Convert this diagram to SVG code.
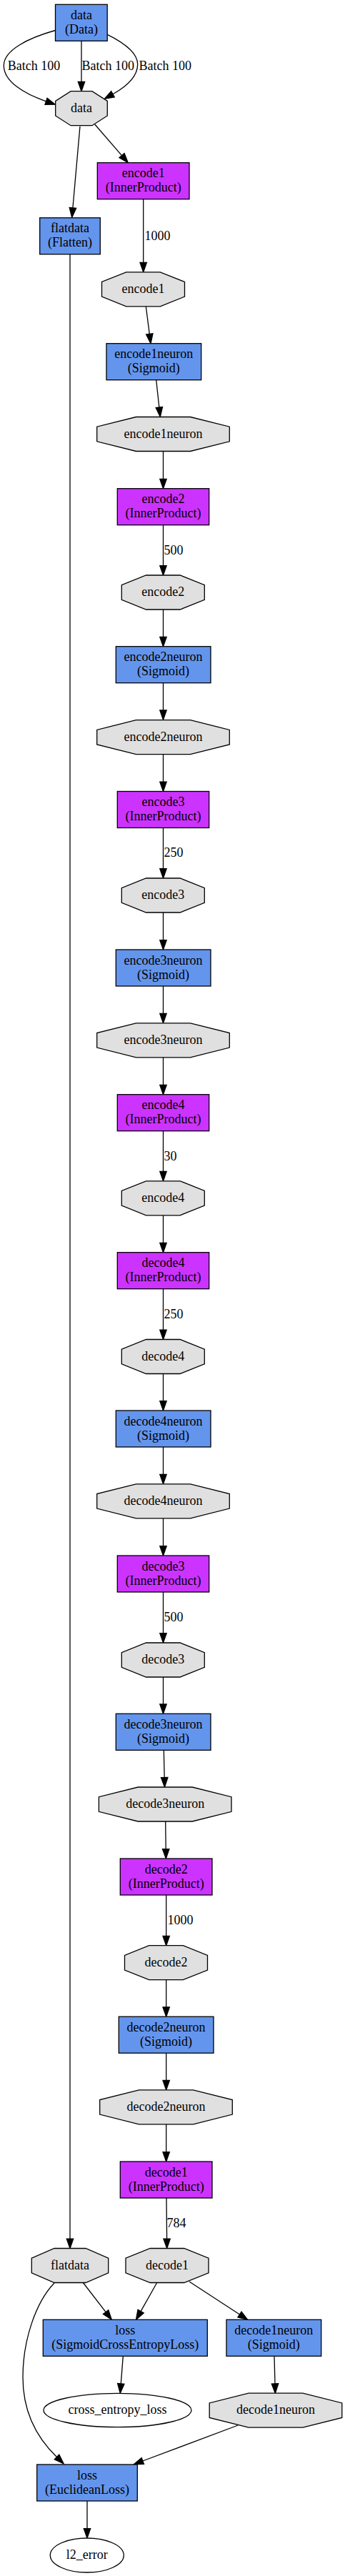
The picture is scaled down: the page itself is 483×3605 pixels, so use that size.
<svg xmlns="http://www.w3.org/2000/svg" width="483" height="3605" viewBox="0 0 483 3605">
<style>
text{font-family:"Liberation Serif","Times New Roman",serif;font-size:18px;fill:#000}
.n text{text-anchor:middle}
.lbl{text-anchor:start}
.lyr{fill:#6495ED;stroke:#000;stroke-width:1.3}
.ip{fill:#CC33FF;stroke:#000;stroke-width:1.3}
.blob{fill:#E0E0E0;stroke:#000;stroke-width:1.3}
.out{fill:#FFFFFF;stroke:#000;stroke-width:1.3}
#edges path{fill:none;stroke:#000;stroke-width:1.3;marker-end:url(#ah)}
</style>
<defs>
<marker id="ah" markerUnits="userSpaceOnUse" markerWidth="16" markerHeight="12" refX="0" refY="0" orient="auto" overflow="visible">
<path d="M0,-4.7 L13.4,0 L0,4.7 Z" fill="#000" stroke="#000" stroke-width="1.3"/>
</marker>
</defs>
<rect width="483" height="3605" fill="#FFFFFF"/>
<g id="edges">
<path d="M77.5,42.5 C40,53 5,70 5.3,92 C5.6,114 33,131 64.5,141.8"/>
<path d="M114,57.3 V114.3"/>
<path d="M150.3,48.3 C172,59 192.7,73 192.7,90 C192.7,106 179,120 158,131.8"/>
<path d="M112,176.7 L101.9,291"/>
<path d="M132.7,174 L170.5,217.6"/>
<path d="M200.7,278.7 V367.3"/>
<path d="M204.3,429 L209.3,467.4"/>
<path d="M218.7,531.7 L222.85,570"/>
<path d="M228.5,631.7 V670.3"/>
<path d="M228.5,734.7 V791.6"/>
<path d="M228.5,853 V891.3"/>
<path d="M228.5,955.7 V993.9"/>
<path d="M228.5,1056 V1094.1"/>
<path d="M228.5,1158.5 V1215.6"/>
<path d="M228.5,1277 V1315.6"/>
<path d="M228.5,1380 V1418.4"/>
<path d="M228.5,1480 V1518.3"/>
<path d="M228.5,1582.7 V1639.4"/>
<path d="M228.5,1700.8 V1739.3"/>
<path d="M228.5,1803.7 V1861.1"/>
<path d="M228.5,1922.5 V1960.6"/>
<path d="M228.5,2025 V2063.4"/>
<path d="M228.5,2124.8 V2163.6"/>
<path d="M228.5,2228 V2285.6"/>
<path d="M228.5,2347 V2384.9"/>
<path d="M229.3,2449.3 L230.2,2487.6"/>
<path d="M231.7,2549 L232.2,2587.6"/>
<path d="M232.7,2652 V2709.3"/>
<path d="M232.7,2770.7 V2808.8"/>
<path d="M232.7,2873.2 V2911.4"/>
<path d="M232.7,2972.8 V3011.6"/>
<path d="M233,3076 L233.6,3133.1"/>
<path d="M98,355.8 V3133.1"/>
<path d="M116,3194 L148.1,3235.7"/>
<path d="M220,3194 L197.1,3234.6"/>
<path d="M265,3193 L335.5,3239"/>
<path d="M76,3195 C50,3222 32,3275 32,3327 C32,3375 52,3412 79.5,3438.5"/>
<path d="M172.3,3297.3 L169.3,3335.9"/>
<path d="M384,3297.3 L385,3335.9"/>
<path d="M333.3,3394 L199.85,3444"/>
<path d="M122,3499.7 V3538.6"/>
<text class="lbl" x="10.7" y="97.5">Batch 100</text>
<text class="lbl" x="114.5" y="97.5">Batch 100</text>
<text class="lbl" x="194.5" y="97.5">Batch 100</text>
<text class="lbl" x="202.5" y="335.8">1000</text>
<text class="lbl" x="229.5" y="775.7">500</text>
<text class="lbl" x="229.5" y="1199.3">250</text>
<text class="lbl" x="229.5" y="1624">30</text>
<text class="lbl" x="229.5" y="1844.7">250</text>
<text class="lbl" x="229.5" y="2269">500</text>
<text class="lbl" x="234.5" y="2693.3">1000</text>
<text class="lbl" x="233.5" y="3117.3">784</text>
</g>
<g id="n-data-layer" class="n"><rect class="lyr" x="77.5" y="6.3" width="72.7" height="51"/><text x="113.9" y="26.8">data</text><text x="113.9" y="46.8">(Data)</text></g>
<g id="n-data-blob" class="n"><polygon class="blob" points="99.1,127.7 128.9,127.7 150.3,141.4 150.3,162 128.9,175.7 99.1,175.7 77.7,162 77.7,141.4"/><text x="114" y="156.7">data</text></g>
<g id="n-encode1-layer" class="n"><rect class="ip" x="136.3" y="227.7" width="128.7" height="51"/><text x="200.7" y="248.2">encode1</text><text x="200.7" y="268.2">(InnerProduct)</text></g>
<g id="n-flatdata-layer" class="n"><rect class="lyr" x="55.7" y="304.8" width="84.6" height="51"/><text x="98" y="325.3">flatdata</text><text x="98" y="345.3">(Flatten)</text></g>
<g id="n-encode1-blob" class="n"><polygon class="blob" points="176.7,380.8 224.3,380.8 258.5,394.5 258.5,415.1 224.3,428.8 176.7,428.8 142.5,415.1 142.5,394.5"/><text x="200.5" y="409.8">encode1</text></g>
<g id="n-encode1neuron-layer" class="n"><rect class="lyr" x="149" y="480.7" width="132.7" height="51"/><text x="215.3" y="501.2">encode1neuron</text><text x="215.3" y="521.2">(Sigmoid)</text></g>
<g id="n-encode1neuron-blob" class="n"><polygon class="blob" points="190.5,583.5 266.5,583.5 321.3,597.2 321.3,617.8 266.5,631.5 190.5,631.5 135.7,617.8 135.7,597.2"/><text x="228.5" y="612.5">encode1neuron</text></g>
<g id="n-encode2-layer" class="n"><rect class="ip" x="164.3" y="683.7" width="128.4" height="51"/><text x="228.5" y="704.2">encode2</text><text x="228.5" y="724.2">(InnerProduct)</text></g>
<g id="n-encode2-blob" class="n"><polygon class="blob" points="204.5,805 252.1,805 286.3,818.7 286.3,839.3 252.1,853 204.5,853 170.3,839.3 170.3,818.7"/><text x="228.3" y="834">encode2</text></g>
<g id="n-encode2neuron-layer" class="n"><rect class="lyr" x="162.3" y="904.7" width="132.7" height="51"/><text x="228.6" y="925.2">encode2neuron</text><text x="228.6" y="945.2">(Sigmoid)</text></g>
<g id="n-encode2neuron-blob" class="n"><polygon class="blob" points="190.5,1007.7 266.5,1007.7 321.3,1021.4 321.3,1042 266.5,1055.7 190.5,1055.7 135.7,1042 135.7,1021.4"/><text x="228.5" y="1036.7">encode2neuron</text></g>
<g id="n-encode3-layer" class="n"><rect class="ip" x="164.3" y="1107.5" width="128.4" height="51"/><text x="228.5" y="1128">encode3</text><text x="228.5" y="1148">(InnerProduct)</text></g>
<g id="n-encode3-blob" class="n"><polygon class="blob" points="204.5,1229 252.1,1229 286.3,1242.7 286.3,1263.3 252.1,1277 204.5,1277 170.3,1263.3 170.3,1242.7"/><text x="228.3" y="1258">encode3</text></g>
<g id="n-encode3neuron-layer" class="n"><rect class="lyr" x="162.3" y="1329" width="132.7" height="51"/><text x="228.6" y="1349.5">encode3neuron</text><text x="228.6" y="1369.5">(Sigmoid)</text></g>
<g id="n-encode3neuron-blob" class="n"><polygon class="blob" points="190.5,1431.8 266.5,1431.8 321.3,1445.5 321.3,1466.1 266.5,1479.8 190.5,1479.8 135.7,1466.1 135.7,1445.5"/><text x="228.5" y="1460.8">encode3neuron</text></g>
<g id="n-encode4-layer" class="n"><rect class="ip" x="164.3" y="1531.7" width="128.4" height="51"/><text x="228.5" y="1552.2">encode4</text><text x="228.5" y="1572.2">(InnerProduct)</text></g>
<g id="n-encode4-blob" class="n"><polygon class="blob" points="204.5,1652.8 252.1,1652.8 286.3,1666.5 286.3,1687.1 252.1,1700.8 204.5,1700.8 170.3,1687.1 170.3,1666.5"/><text x="228.3" y="1681.8">encode4</text></g>
<g id="n-decode4-layer" class="n"><rect class="ip" x="164.3" y="1752.7" width="128.4" height="51"/><text x="228.5" y="1773.2">decode4</text><text x="228.5" y="1793.2">(InnerProduct)</text></g>
<g id="n-decode4-blob" class="n"><polygon class="blob" points="204.5,1874.5 252.1,1874.5 286.3,1888.2 286.3,1908.8 252.1,1922.5 204.5,1922.5 170.3,1908.8 170.3,1888.2"/><text x="228.3" y="1903.5">decode4</text></g>
<g id="n-decode4neuron-layer" class="n"><rect class="lyr" x="162.3" y="1974" width="132.7" height="51"/><text x="228.6" y="1994.5">decode4neuron</text><text x="228.6" y="2014.5">(Sigmoid)</text></g>
<g id="n-decode4neuron-blob" class="n"><polygon class="blob" points="190.5,2076.8 266.5,2076.8 321.3,2090.5 321.3,2111.1 266.5,2124.8 190.5,2124.8 135.7,2111.1 135.7,2090.5"/><text x="228.5" y="2105.8">decode4neuron</text></g>
<g id="n-decode3-layer" class="n"><rect class="ip" x="164.3" y="2177" width="128.4" height="51"/><text x="228.5" y="2197.5">decode3</text><text x="228.5" y="2217.5">(InnerProduct)</text></g>
<g id="n-decode3-blob" class="n"><polygon class="blob" points="204.5,2299 252.1,2299 286.3,2312.7 286.3,2333.3 252.1,2347 204.5,2347 170.3,2333.3 170.3,2312.7"/><text x="228.3" y="2328">decode3</text></g>
<g id="n-decode3neuron-layer" class="n"><rect class="lyr" x="162.3" y="2398.3" width="132.7" height="51"/><text x="228.6" y="2418.8">decode3neuron</text><text x="228.6" y="2438.8">(Sigmoid)</text></g>
<g id="n-decode3neuron-blob" class="n"><polygon class="blob" points="193.2,2501 269.2,2501 324,2514.7 324,2535.3 269.2,2549 193.2,2549 138.4,2535.3 138.4,2514.7"/><text x="231.2" y="2530">decode3neuron</text></g>
<g id="n-decode2-layer" class="n"><rect class="ip" x="168.3" y="2601" width="128.7" height="51"/><text x="232.7" y="2621.5">decode2</text><text x="232.7" y="2641.5">(InnerProduct)</text></g>
<g id="n-decode2-blob" class="n"><polygon class="blob" points="208.7,2722.7 256.3,2722.7 290.5,2736.4 290.5,2757 256.3,2770.7 208.7,2770.7 174.5,2757 174.5,2736.4"/><text x="232.5" y="2751.7">decode2</text></g>
<g id="n-decode2neuron-layer" class="n"><rect class="lyr" x="166.3" y="2822.2" width="132.7" height="51"/><text x="232.6" y="2842.7">decode2neuron</text><text x="232.6" y="2862.7">(Sigmoid)</text></g>
<g id="n-decode2neuron-blob" class="n"><polygon class="blob" points="194.5,2924.8 270.5,2924.8 325.3,2938.5 325.3,2959.1 270.5,2972.8 194.5,2972.8 139.7,2959.1 139.7,2938.5"/><text x="232.5" y="2953.8">decode2neuron</text></g>
<g id="n-decode1-layer" class="n"><rect class="ip" x="168.3" y="3025" width="128.7" height="51"/><text x="232.7" y="3045.5">decode1</text><text x="232.7" y="3065.5">(InnerProduct)</text></g>
<g id="n-flatdata-blob" class="n"><polygon class="blob" points="76,3146.5 120,3146.5 151.7,3160.2 151.7,3180.8 120,3194.5 76,3194.5 44.3,3180.8 44.3,3160.2"/><text x="98" y="3175.5">flatdata</text></g>
<g id="n-decode1-blob" class="n"><polygon class="blob" points="210.2,3146.5 257.8,3146.5 292,3160.2 292,3180.8 257.8,3194.5 210.2,3194.5 176,3180.8 176,3160.2"/><text x="234" y="3175.5">decode1</text></g>
<g id="n-loss-sce-layer" class="n"><rect class="lyr" x="60.3" y="3246.3" width="230" height="51"/><text x="175.3" y="3266.8">loss</text><text x="175.3" y="3286.8">(SigmoidCrossEntropyLoss)</text></g>
<g id="n-decode1neuron-layer" class="n"><rect class="lyr" x="317" y="3246.3" width="132.7" height="51"/><text x="383.3" y="3266.8">decode1neuron</text><text x="383.3" y="3286.8">(Sigmoid)</text></g>
<g id="n-cross-entropy-loss" class="n"><ellipse class="out" cx="164.5" cy="3373" rx="103.5" ry="23.7"/><text x="164.5" y="3378">cross_entropy_loss</text></g>
<g id="n-decode1neuron-blob" class="n"><polygon class="blob" points="348,3349.2 424,3349.2 478.8,3362.9 478.8,3383.5 424,3397.2 348,3397.2 293.2,3383.5 293.2,3362.9"/><text x="386" y="3378.2">decode1neuron</text></g>
<g id="n-loss-euclidean-layer" class="n"><rect class="lyr" x="51.7" y="3449" width="140.6" height="51"/><text x="122" y="3469.5">loss</text><text x="122" y="3489.5">(EuclideanLoss)</text></g>
<g id="n-l2-error" class="n"><ellipse class="out" cx="121.8" cy="3576" rx="51.5" ry="24"/><text x="121.8" y="3581">l2_error</text></g>
</svg>
